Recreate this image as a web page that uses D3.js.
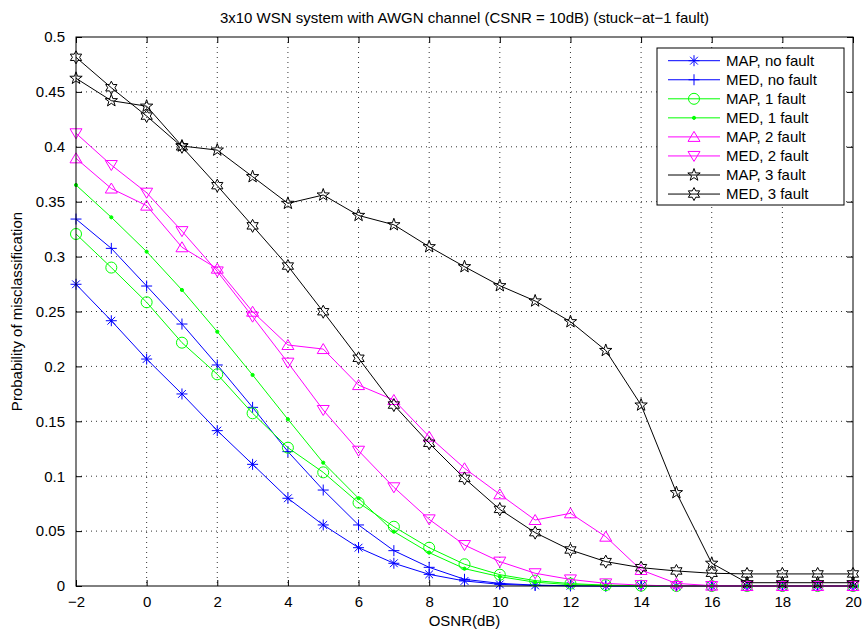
<!DOCTYPE html>
<html>
<head>
<meta charset="utf-8">
<script src="https://cdn.jsdelivr.net/npm/d3@7"></script>
<style>
  body { margin: 0; background: #fff; }
  text { font-family: "Liberation Sans", Arial, sans-serif; fill: #000; }
</style>
</head>
<body>
<div id="chart"></div>
<script>
// SVG area
var svgWidth = 865;
var svgHeight = 632;

var margin = { top: 37, right: 12, bottom: 46, left: 76 };
var chartWidth = svgWidth - margin.left - margin.right;
var chartHeight = svgHeight - margin.top - margin.bottom;

// data
var osnr = d3.range(-2, 21);
var xTicks = [-2, 0, 2, 4, 6, 8, 10, 12, 14, 16, 18, 20];
var yTicks = [0, 0.05, 0.1, 0.15, 0.2, 0.25, 0.3, 0.35, 0.4, 0.45, 0.5];

var mapNoFault = [0.2748, 0.2416, 0.2067, 0.1749, 0.1415, 0.1108, 0.0799, 0.0556, 0.0349, 0.0207, 0.0106, 0.0046,
  0.0015, 0.0005, 0.0002, 0, 0, 0, 0, 0, 0, 0, 0];
var medNoFault = [0.3342, 0.3075, 0.2732, 0.2386, 0.2013, 0.1627, 0.1224, 0.0874, 0.0556, 0.0322, 0.0170, 0.0061,
  0.0024, 0.0008, 0.0002, 0, 0, 0, 0, 0, 0, 0, 0];
var map1Fault = [0.3206, 0.2900, 0.2584, 0.2216, 0.1928, 0.1573, 0.1260, 0.1035, 0.0759, 0.0540, 0.0349, 0.0198,
  0.0103, 0.0049, 0.0022, 0.0008, 0.0003, 0, 0, 0, 0, 0, 0];
var med1Fault = [0.3652, 0.3358, 0.3045, 0.2696, 0.2316, 0.1922, 0.1518, 0.1123, 0.0799, 0.0495, 0.0304, 0.0158,
  0.0085, 0.0035, 0.0012, 0.0004, 0, 0, 0, 0, 0, 0, 0];
var map2Fault = [0.3895, 0.3620, 0.3464, 0.3085, 0.2890, 0.2498, 0.2195, 0.2158, 0.1830, 0.1694, 0.1360, 0.1072,
  0.0835, 0.0601, 0.0662, 0.0449, 0.0146, 0.0024, 0.0003, 0, 0, 0, 0];
var med2Fault = [0.4123, 0.3834, 0.3582, 0.3232, 0.2865, 0.2453, 0.2034, 0.1603, 0.1232, 0.0899, 0.0607, 0.0373,
  0.0222, 0.0116, 0.0060, 0.0024, 0.0008, 0, 0, 0, 0, 0, 0];
var map3Fault = [0.4624, 0.4420, 0.4370, 0.4007, 0.3970, 0.3728, 0.3485, 0.3561, 0.3375, 0.3290, 0.3090, 0.2908,
  0.2735, 0.2596, 0.2407, 0.2145, 0.1648, 0.0850, 0.0207, 0.0030, 0.0030, 0.0030, 0.0030];
var med3Fault = [0.4815, 0.4538, 0.4280, 0.4000, 0.3646, 0.3280, 0.2914, 0.2498, 0.2074, 0.1648, 0.1300, 0.0980,
  0.0698, 0.0486, 0.0328, 0.0222, 0.0167, 0.0137, 0.0116, 0.0110, 0.0110, 0.0110, 0.0110];

var seriesNames = ["MAP, no fault", "MED, no fault", "MAP, 1 fault", "MED, 1 fault",
  "MAP, 2 fault", "MED, 2 fault", "MAP, 3 fault", "MED, 3 fault"];
var seriesValues = [mapNoFault, medNoFault, map1Fault, med1Fault, map2Fault, med2Fault, map3Fault, med3Fault];
var seriesColors = ["#0000ff", "#0000ff", "#00ff00", "#00ff00", "#ff00ff", "#ff00ff", "#000000", "#000000"];
var seriesMarkers = ["asterisk", "plus", "circle", "point", "triangleUp", "triangleDown", "pentagram", "hexagram"];

// marker shapes, centred on 0,0
function starPath(n, outer, inner) {
  var pts = [];
  for (var i = 0; i < 2 * n; i++) {
    var r = (i % 2 === 0) ? outer : inner;
    var a = -Math.PI / 2 + i * Math.PI / n;
    pts.push([r * Math.cos(a), r * Math.sin(a)]);
  }
  return "M" + pts.map(p => p[0].toFixed(2) + "," + p[1].toFixed(2)).join("L") + "Z";
}

function markerPath(kind) {
  var r = 5.5;
  var a = r * 0.707;
  switch (kind) {
    case "asterisk":
      return `M${-r},0L${r},0M0,${-r}L0,${r}M${-a},${-a}L${a},${a}M${-a},${a}L${a},${-a}`;
    case "plus":
      return `M${-r},0L${r},0M0,${-r}L0,${r}`;
    case "circle":
      return `M${r},0A${r},${r} 0 1,1 ${-r},0A${r},${r} 0 1,1 ${r},0Z`;
    case "point":
      return "M1.6,0A1.6,1.6 0 1,1 -1.6,0A1.6,1.6 0 1,1 1.6,0Z";
    case "triangleUp":
      return "M0,-5.5L6,4.5L-6,4.5Z";
    case "triangleDown":
      return "M0,5.5L6,-4.5L-6,-4.5Z";
    case "pentagram":
      return starPath(5, 6.5, 2.6);
    case "hexagram":
      return starPath(6, 6.5, 3.6);
  }
}

var svg = d3.select("#chart")
  .append("svg")
  .attr("width", svgWidth)
  .attr("height", svgHeight);

var chartGroup = svg.append("g")
  .attr("transform", `translate(${margin.left}, ${margin.top})`);

var xScale = d3.scaleLinear().domain([-2, 20]).range([0, chartWidth]);
var yScale = d3.scaleLinear().domain([0, 0.5]).range([chartHeight, 0]);

// dotted grid
chartGroup.append("g")
  .selectAll("line")
  .data(xTicks.slice(1, -1))
  .enter()
  .append("line")
  .attr("x1", d => xScale(d)).attr("x2", d => xScale(d))
  .attr("y1", 0).attr("y2", chartHeight)
  .attr("stroke", "#000").attr("stroke-width", 0.8)
  .attr("stroke-dasharray", "1,4");

chartGroup.append("g")
  .selectAll("line")
  .data(yTicks.slice(1, -1))
  .enter()
  .append("line")
  .attr("x1", 0).attr("x2", chartWidth)
  .attr("y1", d => yScale(d)).attr("y2", d => yScale(d))
  .attr("stroke", "#000").attr("stroke-width", 0.8)
  .attr("stroke-dasharray", "1,4");

// axes with inward ticks (MATLAB style)
var tickLen = 6;
var bottomAxis = d3.axisBottom(xScale).tickValues(xTicks).tickSizeInner(-tickLen).tickSizeOuter(0)
  .tickPadding(tickLen + 4).tickFormat(d => d < 0 ? "\u2212" + Math.abs(d) : d);
var topAxis = d3.axisTop(xScale).tickValues(xTicks).tickSizeInner(-tickLen).tickSizeOuter(0).tickFormat("");
var leftAxis = d3.axisLeft(yScale).tickValues(yTicks).tickSizeInner(-tickLen).tickSizeOuter(0)
  .tickPadding(tickLen + 5).tickFormat(d => d3.format("~g")(d));
var rightAxis = d3.axisRight(yScale).tickValues(yTicks).tickSizeInner(-tickLen).tickSizeOuter(0).tickFormat("");

var axes = [
  chartGroup.append("g").attr("transform", `translate(0, ${chartHeight})`).call(bottomAxis),
  chartGroup.append("g").call(topAxis),
  chartGroup.append("g").call(leftAxis),
  chartGroup.append("g").attr("transform", `translate(${chartWidth}, 0)`).call(rightAxis)
];
axes.forEach(g => {
  g.select(".domain").remove();
  g.selectAll("line").attr("stroke", "#000");
  g.selectAll("text").attr("font-size", 15).attr("font-family", "Liberation Sans, Arial, sans-serif");
});

// series lines and markers
var line = d3.line()
  .x((d, i) => xScale(osnr[i]))
  .y(d => yScale(d));

seriesValues.forEach((vals, s) => {
  var g = chartGroup.append("g");
  g.append("path")
    .datum(vals)
    .attr("d", line)
    .attr("fill", "none")
    .attr("stroke", seriesColors[s])
    .attr("stroke-width", 1);
  g.selectAll("path.marker")
    .data(vals)
    .enter()
    .append("path")
    .classed("marker", true)
    .attr("transform", (d, i) => `translate(${xScale(osnr[i])}, ${yScale(d)})`)
    .attr("d", markerPath(seriesMarkers[s]))
    .attr("fill", seriesMarkers[s] === "point" ? seriesColors[s] : "none")
    .attr("stroke", seriesColors[s])
    .attr("stroke-width", 1);
});

// box
chartGroup.append("rect")
  .attr("width", chartWidth).attr("height", chartHeight)
  .attr("fill", "none").attr("stroke", "#000").attr("stroke-width", 1);

// legend
var legend = chartGroup.append("g")
  .attr("transform", `translate(${657 - margin.left}, ${48 - margin.top})`);
legend.append("rect")
  .attr("width", 187).attr("height", 157)
  .attr("fill", "#fff").attr("stroke", "#000").attr("stroke-width", 1);

var rows = legend.selectAll("g.row")
  .data(seriesNames)
  .enter()
  .append("g")
  .classed("row", true)
  .attr("transform", (d, i) => `translate(0, ${12.7 + i * 19.05})`);
rows.append("line")
  .attr("x1", 11).attr("x2", 63)
  .attr("stroke", (d, i) => seriesColors[i]).attr("stroke-width", 1);
rows.append("path")
  .attr("transform", "translate(37, 0)")
  .attr("d", (d, i) => markerPath(seriesMarkers[i]))
  .attr("fill", (d, i) => seriesMarkers[i] === "point" ? seriesColors[i] : "none")
  .attr("stroke", (d, i) => seriesColors[i]);
rows.append("text")
  .attr("x", 69).attr("dy", "0.35em")
  .attr("font-size", 15)
  .text(d => d);

// titles
svg.append("text")
  .attr("x", margin.left + chartWidth / 2).attr("y", 23)
  .attr("text-anchor", "middle").attr("font-size", 15)
  .text("3x10 WSN system with AWGN channel (CSNR = 10dB) (stuck\u2212at\u22121 fault)");

svg.append("text")
  .attr("x", margin.left + chartWidth / 2).attr("y", 626)
  .attr("text-anchor", "middle").attr("font-size", 15)
  .text("OSNR(dB)");

svg.append("text")
  .attr("transform", `translate(22, ${margin.top + chartHeight / 2}) rotate(-90)`)
  .attr("text-anchor", "middle").attr("font-size", 15)
  .text("Probability of misclassification");
</script>
</body>
</html>
